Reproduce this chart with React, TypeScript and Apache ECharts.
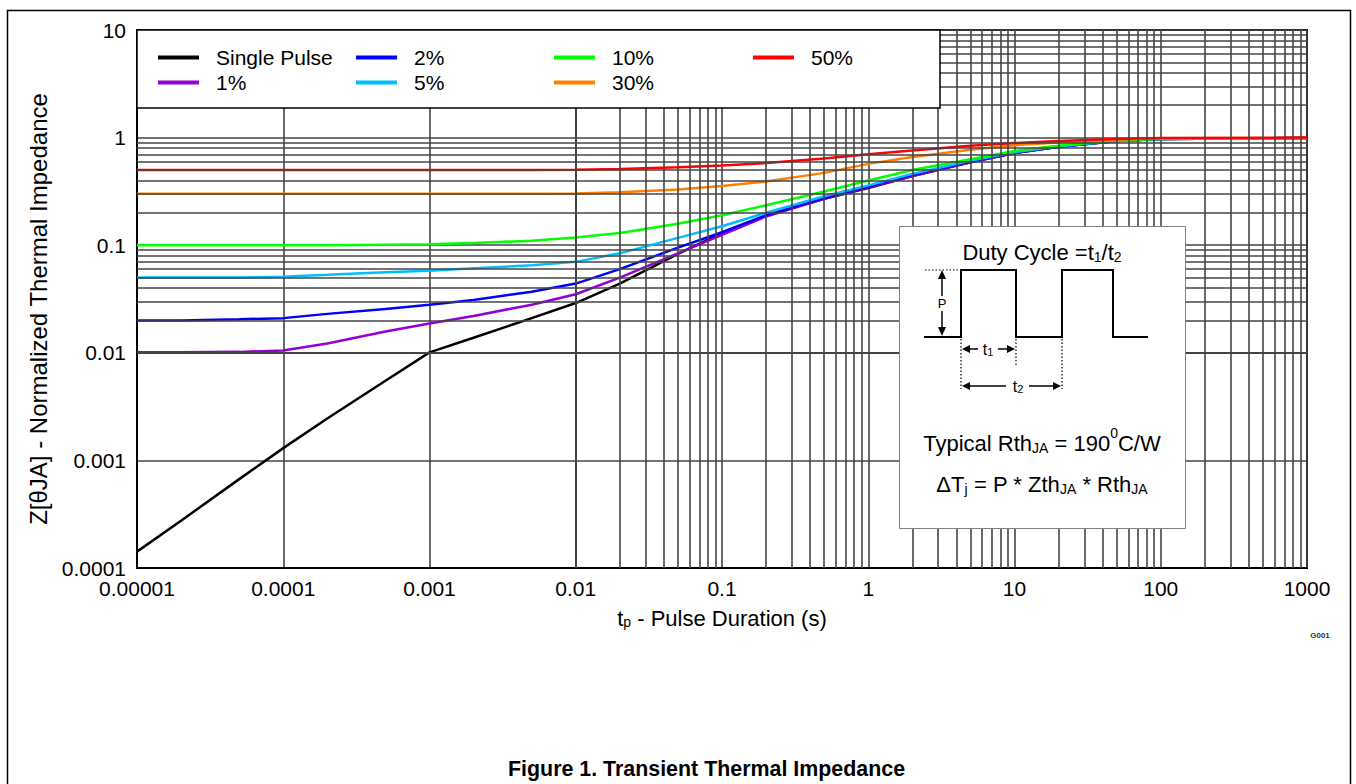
import React, { useEffect, useRef } from 'react';
import * as echarts from 'echarts';

// ---- data ----
const durations = [1e-5, 2e-5, 5e-5, 1e-4, 2e-4, 5e-4, 1e-3, 2e-3, 5e-3, 1e-2, 2e-2, 5e-2, 0.1, 0.2, 0.5, 1, 2, 5, 10, 20, 50, 100, 1000];

const singlePulse = [1.42e-4, 2.75e-4, 6.7e-4, 1.3e-3, 2.45e-3, 5.5e-3, 0.0101, 0.0138, 0.021, 0.029, 0.044, 0.083, 0.13, 0.19, 0.27, 0.34, 0.44, 0.59, 0.72, 0.82, 0.93, 0.97, 0.99];
const duty1 = [0.0101, 0.0101, 0.0102, 0.0105, 0.0122, 0.0158, 0.0187, 0.022, 0.028, 0.035, 0.05, 0.084, 0.125, 0.185, 0.27, 0.345, 0.44, 0.59, 0.72, 0.82, 0.93, 0.97, 0.99];
const duty2 = [0.02, 0.02, 0.0205, 0.021, 0.023, 0.0255, 0.028, 0.031, 0.037, 0.044, 0.06, 0.095, 0.132, 0.19, 0.275, 0.35, 0.45, 0.6, 0.72, 0.82, 0.93, 0.97, 0.99];
const duty5 = [0.05, 0.05, 0.05, 0.051, 0.053, 0.056, 0.058, 0.061, 0.065, 0.07, 0.084, 0.117, 0.15, 0.2, 0.285, 0.36, 0.46, 0.61, 0.73, 0.83, 0.93, 0.97, 0.99];
const duty10 = [0.1, 0.1, 0.1, 0.1, 0.1, 0.101, 0.102, 0.105, 0.11, 0.118, 0.13, 0.158, 0.19, 0.235, 0.315, 0.4, 0.5, 0.63, 0.75, 0.84, 0.94, 0.97, 0.99];
const duty30 = [0.3, 0.3, 0.3, 0.3, 0.3, 0.3, 0.3, 0.3, 0.3, 0.302, 0.31, 0.33, 0.355, 0.39, 0.47, 0.57, 0.66, 0.77, 0.85, 0.9, 0.96, 0.98, 0.99];
const duty50 = [0.5, 0.5, 0.5, 0.5, 0.5, 0.5, 0.5, 0.5, 0.5, 0.502, 0.51, 0.53, 0.55, 0.58, 0.64, 0.7, 0.76, 0.84, 0.89, 0.93, 0.97, 0.99, 1.0];

const seriesNames = ['Single Pulse', '1%', '2%', '5%', '10%', '30%', '50%'];
const seriesValues = [singlePulse, duty1, duty2, duty5, duty10, duty30, duty50];
const seriesColors = ['#000000', '#9400D3', '#0000FF', '#00BFFF', '#00FF00', '#FF8000', '#FF0000'];

const xTickLabels = ['0.00001', '0.0001', '0.001', '0.01', '0.1', '1', '10', '100', '1000'];
const yTickLabels = ['0.0001', '0.001', '0.01', '0.1', '1', '10'];

const minorMultipliers = [2, 3, 4, 5, 6, 7, 8, 9];
const xDecades = [-5, -4, -3, -2, -1, 0, 1, 2];
const yDecades = [-4, -3, -2, -1, 0];

const legendColumns = [['Single Pulse', '1%'], ['2%', '5%'], ['10%', '30%'], ['50%']];
const legendLefts = [158, 356, 554, 753];

const FONT = '"Liberation Sans", Arial, Helvetica, sans-serif';
const GRID_COLOR = '#444444';

function minorValues(decades: number[]) {
  const out: number[] = [];
  decades.forEach((d) => minorMultipliers.forEach((m) => out.push(Number((m * Math.pow(10, d)).toPrecision(6)))));
  return out;
}

function richStyles(size: number, sub: number) {
  const lh = Math.round(size * 1.3);
  return {
    n: { fontSize: size, lineHeight: lh, verticalAlign: 'bottom', fontFamily: FONT, color: '#000' },
    s: { fontSize: sub, lineHeight: sub, padding: [lh - sub, 0, 0, 0], verticalAlign: 'bottom', fontFamily: FONT, color: '#000' },
    u: { fontSize: sub, lineHeight: sub, padding: [0, 0, lh - sub, 0], verticalAlign: 'bottom', fontFamily: FONT, color: '#000' },
  };
}

export default function App() {
  const ref = useRef<HTMLDivElement>(null);

  useEffect(() => {
    if (!ref.current) return;
    const chart = echarts.init(ref.current, null, { renderer: 'svg' });

    const gridMarkLines = [
      ...minorValues(xDecades).map((v) => ({ xAxis: v })),
      ...minorValues(yDecades).map((v) => ({ yAxis: v })),
    ];

    const dataSeries = seriesNames.map((name, i) => ({
      name,
      type: 'line',
      data: durations.map((d, j) => [d, seriesValues[i][j]]),
      symbol: 'none',
      showSymbol: false,
      z: 3,
      lineStyle: { color: seriesColors[i], width: 2.5 },
      itemStyle: { color: seriesColors[i] },
      emphasis: { disabled: true },
    }));

    const legends = legendColumns.map((col, i) => ({
      left: legendLefts[i],
      top: 47,
      orient: 'vertical',
      padding: 0,
      itemGap: 4,
      itemWidth: 41,
      itemHeight: 4,
      icon: 'rect',
      selectedMode: false,
      data: col,
      z: 8,
      textStyle: { fontSize: 21, fontFamily: FONT, color: '#000', padding: [0, 0, 0, 12] },
    }));

    const txt = (x: number, y: number, text: string, size: number, sub: number, z = 9) => ({
      type: 'text',
      z,
      style: { x, y, text, rich: richStyles(size, sub), align: 'center', verticalAlign: 'middle' },
    });

    const dotted = (x1: number, y1: number, x2: number, y2: number) => ({
      type: 'line',
      z: 9,
      shape: { x1, y1, x2, y2 },
      style: { stroke: '#000', lineWidth: 1.2, lineDash: [1.5, 2] },
    });
    const solid = (x1: number, y1: number, x2: number, y2: number) => ({
      type: 'line',
      z: 9,
      shape: { x1, y1, x2, y2 },
      style: { stroke: '#000', lineWidth: 1.5 },
    });
    const head = (pts: number[][]) => ({
      type: 'polygon',
      z: 9,
      shape: { points: pts },
      style: { fill: '#000' },
    });

    const option: any = {
      animation: false,
      backgroundColor: '#ffffff',
      title: {
        text: 'Figure 1. Transient Thermal Impedance',
        left: 508,
        top: 758,
        padding: 0,
        textStyle: { fontSize: 21.4, fontWeight: 'bold', fontFamily: FONT, color: '#000' },
      },
      legend: legends,
      grid: {
        left: 137,
        top: 30,
        right: 49,
        bottom: 216,
        show: true,
        borderColor: '#000',
        borderWidth: 2,
        backgroundColor: 'transparent',
      },
      xAxis: {
        type: 'log',
        logBase: 10,
        min: 1e-5,
        max: 1000,
        interval: 1,
        splitNumber: 8,
        name: '{n|t}{s|p}{n| - Pulse Duration (s)}',
        nameLocation: 'middle',
        nameGap: 32,
        nameMoveOverlap: false,
        nameTextStyle: { rich: richStyles(22, 14) },
        axisLine: { show: true, lineStyle: { color: '#000', width: 2 } },
        axisTick: { show: false },
        axisLabel: {
          fontSize: 21,
          fontFamily: FONT,
          color: '#000',
          margin: 10,
          formatter: (v: number) => xTickLabels[Math.round(Math.log10(v)) + 5] ?? '',
        },
        splitLine: { show: true, lineStyle: { color: GRID_COLOR, width: 1.6 } },
      },
      yAxis: {
        type: 'log',
        logBase: 10,
        min: 1e-4,
        max: 10,
        interval: 1,
        splitNumber: 5,
        name: 'Z[θJA] - Normalized Thermal Impedance',
        nameLocation: 'middle',
        nameRotate: 90,
        nameGap: 87,
        nameTextStyle: { fontSize: 24, fontFamily: FONT, color: '#000', padding: [0, 20, 0, 0] },
        axisLine: { show: true, lineStyle: { color: '#000', width: 2 } },
        axisTick: { show: false },
        axisLabel: {
          fontSize: 21,
          fontFamily: FONT,
          color: '#000',
          margin: 11,
          padding: [4, 0, 0, 0],
          formatter: (v: number) => yTickLabels[Math.round(Math.log10(v)) + 4] ?? '',
        },
        splitLine: { show: true, lineStyle: { color: GRID_COLOR, width: 1.6 } },
      },
      series: [
        {
          name: 'minor-grid',
          type: 'line',
          data: [],
          z: 1,
          silent: true,
          markLine: {
            silent: true,
            symbol: ['none', 'none'],
            label: { show: false },
            emphasis: { disabled: true },
            lineStyle: { color: GRID_COLOR, width: 1.6, type: 'solid' },
            data: gridMarkLines,
          },
        },
        ...dataSeries,
      ],
      graphic: [
        // outer frame
        { type: 'rect', z: 10, shape: { x: 7.5, y: 10.5, width: 1343, height: 800 }, style: { fill: 'none', stroke: '#000', lineWidth: 1.5 } },
        // legend box
        { type: 'rect', z: 7, shape: { x: 137, y: 30, width: 803, height: 78 }, style: { fill: '#fff', stroke: '#000', lineWidth: 1.5 } },
        // inset box
        { type: 'rect', z: 7, shape: { x: 899.5, y: 226.5, width: 286, height: 302 }, style: { fill: '#fff', stroke: '#808080', lineWidth: 1 } },
        txt(1042, 249, '{n|Duty Cycle =t}{s|1}{n|/t}{s|2}', 22, 14),
        {
          type: 'polyline',
          z: 9,
          shape: { points: [[924, 337], [961, 337], [961, 270], [1016, 270], [1016, 337], [1062, 337], [1062, 270], [1113, 270], [1113, 337], [1148, 337]] },
          style: { stroke: '#000', lineWidth: 2, fill: 'none' },
        },
        dotted(925, 270, 959, 270),
        dotted(961, 339, 961, 389),
        dotted(1016, 339, 1016, 366),
        dotted(1062, 339, 1062, 389),
        // P arrow
        solid(942, 277, 942, 296),
        solid(942, 311, 942, 329),
        head([[942, 270], [938, 279], [946, 279]]),
        head([[942, 336], [938, 327], [946, 327]]),
        { type: 'text', z: 9, style: { x: 942, y: 303.5, text: 'P', fontSize: 13, fontFamily: FONT, fill: '#000', align: 'center', verticalAlign: 'middle' } },
        // t1 arrow
        solid(968, 349, 978, 349),
        solid(998, 349, 1009, 349),
        head([[962, 349], [970, 345], [970, 353]]),
        head([[1015, 349], [1007, 345], [1007, 353]]),
        txt(988, 347, '{n|t}{s|1}', 16, 11),
        // t2 arrow
        solid(968, 386, 1006, 386),
        solid(1029, 386, 1055, 386),
        head([[962, 386], [970, 382], [970, 390]]),
        head([[1061, 386], [1053, 382], [1053, 390]]),
        txt(1018, 384, '{n|t}{s|2}', 16, 11),
        txt(1042, 440, '{n|Typical Rth}{s|JA}{n| = 190}{u|0}{n|C/W}', 22, 14),
        txt(1042, 481, '{n|ΔT}{s|j}{n| = P * Zth}{s|JA}{n| * Rth}{s|JA}', 22, 14),
        { type: 'text', z: 9, style: { x: 1320, y: 635, text: 'G001', fontSize: 8, fontWeight: 'bold', fontFamily: FONT, fill: '#333', align: 'center', verticalAlign: 'middle' } },
      ],
    };

    chart.setOption(option);
    return () => chart.dispose();
  }, []);

  return (
    <div
      ref={ref}
      style={{ position: 'absolute', left: 0, top: 0, width: 1356, height: 784, background: '#fff' }}
    />
  );
}
